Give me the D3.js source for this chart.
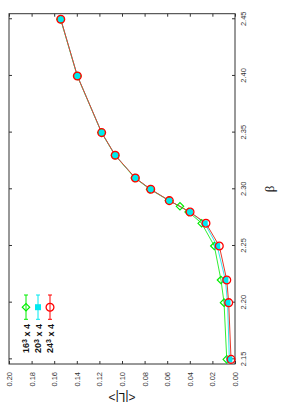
<!DOCTYPE html>
<html>
<head>
<meta charset="utf-8">
<script src="https://cdn.jsdelivr.net/npm/d3@7/dist/d3.min.js"></script>
<style>
  html, body { margin: 0; padding: 0; background: #fff; }
  svg { display: block; }
  text { font-family: "Liberation Sans", Arial, sans-serif; }
</style>
</head>
<body>
<svg id="chart" width="283" height="403"></svg>
<script>
// ---- data ----
const beta = [2.15, 2.20, 2.22, 2.25, 2.27, 2.28, 2.29, 2.30, 2.31, 2.33, 2.35, 2.40, 2.45];
const L24 = [0.0035, 0.0056, 0.0073, 0.0139, 0.0257, 0.0398, 0.0581, 0.0746, 0.0882, 0.1060, 0.1180, 0.1395, 0.1542];
const L20 = [0.0050, 0.0066, 0.0085, 0.0158, 0.0268, 0.0400, 0.0582, 0.0747, 0.0883, 0.1060, 0.1180, 0.1395, 0.1542];
const beta16 = [2.15, 2.20, 2.22, 2.25, 2.27, 2.28, 2.285, 2.29, 2.30, 2.31, 2.33, 2.35, 2.40, 2.45];
const L16 = [0.0073, 0.0097, 0.0124, 0.0183, 0.0295, 0.0410, 0.0487, 0.0585, 0.0752, 0.0886, 0.1062, 0.1181, 0.1396, 0.1543];
const betaTicks = [2.15, 2.20, 2.25, 2.30, 2.35, 2.40, 2.45];
const LTicks = [0.00, 0.02, 0.04, 0.06, 0.08, 0.10, 0.12, 0.14, 0.16, 0.18, 0.20];
const seriesNames = ["16", "20", "24"];
const seriesColors = ["#00ee00", "#00e8f0", "#ff0000"];
const lineColors = ["#33ee33", "#33e8f0", "#e83a2a"];

// ---- layout (unrotated frame; whole chart is rotated 90deg CCW) ----
const W = 403, H = 283;
const mLeft = 39, mRight = 389.3, mTop = 9, mBottom = 235;

const svg = d3.select("#chart");
const g = svg.append("g").attr("transform", `translate(0,${W}) rotate(-90)`);

const x = d3.scaleLinear().domain([2.1459, 2.4549]).range([mLeft, mRight]);
const y = d3.scaleLinear().domain([0, 0.20]).range([mBottom, mTop]);

// frame
g.append("rect").attr("x", mLeft).attr("y", mTop)
  .attr("width", mRight - mLeft).attr("height", mBottom - mTop)
  .attr("fill", "none").attr("stroke", "#333").attr("stroke-width", 1);

function styleAxis(sel, hideText) {
  sel.select(".domain").remove();
  sel.selectAll(".tick line").attr("stroke", "#333");
  sel.selectAll(".tick text").attr("fill", "#333")
    .style("font-size", "7.5px").style("font-family", "'Liberation Sans', Arial, sans-serif");
  if (hideText) sel.selectAll(".tick text").remove();
}

g.append("g").attr("transform", `translate(0,${mBottom})`)
  .call(d3.axisBottom(x).tickValues(betaTicks).tickSize(-3).tickPadding(5.5).tickFormat(d3.format(".2f")))
  .call(s => styleAxis(s, false));
g.append("g").attr("transform", `translate(0,${mTop})`)
  .call(d3.axisTop(x).tickValues(betaTicks).tickSize(-3).tickFormat(""))
  .call(s => styleAxis(s, true));
g.append("g").attr("transform", `translate(${mLeft},0)`)
  .call(d3.axisLeft(y).tickValues(LTicks).tickSize(-3).tickPadding(8).tickFormat(d3.format(".2f")))
  .call(s => styleAxis(s, false));
g.append("g").attr("transform", `translate(${mRight},0)`)
  .call(d3.axisRight(y).tickValues(LTicks).tickSize(-3).tickFormat(""))
  .call(s => styleAxis(s, true));

// axis labels
g.append("text").attr("x", (mLeft + mRight) / 2).attr("y", 274)
  .attr("text-anchor", "middle")
  .style("font-family", "'Liberation Serif', 'DejaVu Serif', serif")
  .style("font-size", "13px").attr("fill", "#111").text("β");
g.append("text")
  .attr("transform", `translate(10,${(mTop + mBottom) / 2}) rotate(-90)`)
  .attr("text-anchor", "middle")
  .style("font-size", "12px").attr("fill", "#111").text("<|L|>");

// marker drawing
function marker(sel, type, color) {
  if (type === 0) {
    sel.append("path").attr("d", "M0,-3.7L3.7,0L0,3.7L-3.7,0Z")
      .attr("fill", "none").attr("stroke", color).attr("stroke-width", 1.2);
  } else if (type === 1) {
    sel.append("rect").attr("x", -3).attr("y", -3).attr("width", 6).attr("height", 6)
      .attr("fill", color);
  } else {
    sel.append("circle").attr("r", 3.9)
      .attr("fill", "none").attr("stroke", color).attr("stroke-width", 1.3);
  }
}

const series = [
  { b: beta16, v: L16 },
  { b: beta, v: L20 },
  { b: beta, v: L24 }
];

const line = d3.line().x(d => x(d[0])).y(d => y(d[1]));

series.forEach((s, i) => {
  const pts = s.b.map((b, k) => [b, s.v[k]]);
  g.append("path").datum(pts).attr("d", line)
    .attr("fill", "none").attr("stroke", lineColors[i]).attr("stroke-width", 1);
});
series.forEach((s, i) => {
  const pts = s.b.map((b, k) => [b, s.v[k]]);
  pts.forEach(p => {
    const m = g.append("g").attr("transform", `translate(${x(p[0])},${y(p[1])})`);
    marker(m, i, seriesColors[i]);
  });
});

// legend
const legU0 = 83.7, legU1 = 108, legUm = 95.8;
const legRows = [26, 38, 50];
seriesNames.forEach((n, i) => {
  const v = legRows[i];
  const c = seriesColors[i];
  g.append("line").attr("x1", legU0).attr("x2", legU1).attr("y1", v).attr("y2", v)
    .attr("stroke", c).attr("stroke-width", 1);
  [legU0, legU1].forEach(u => g.append("line").attr("x1", u).attr("x2", u)
    .attr("y1", v - 2).attr("y2", v + 2).attr("stroke", c).attr("stroke-width", 1));
  const m = g.append("g").attr("transform", `translate(${legUm},${v})`);
  marker(m, i, c);
  const t = g.append("text").attr("x", 79).attr("y", v).attr("dy", "0.38em")
    .attr("text-anchor", "end").style("font-size", "9px").style("font-weight", "bold").attr("fill", "#111");
  t.append("tspan").text(n);
  t.append("tspan").attr("dy", "-0.4em").style("font-size", "7px").text("3");
  t.append("tspan").attr("dy", "0.4em").text(" x 4");
});
</script>
</body>
</html>
